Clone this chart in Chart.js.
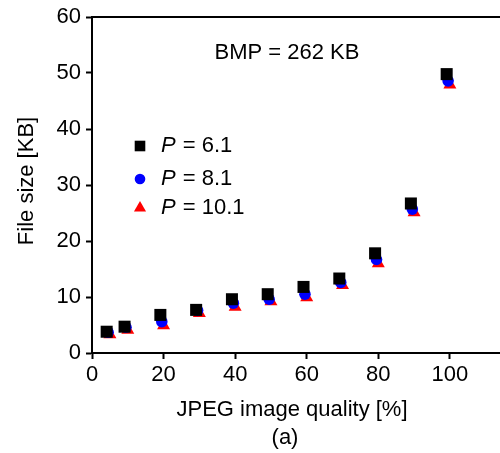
<!DOCTYPE html>
<html lang="en">
<head>
  <meta charset="UTF-8">
  <title>File size vs JPEG quality</title>
  <script src="https://cdn.jsdelivr.net/npm/chart.js"></script>
  <style>
    html, body { margin: 0; padding: 0; background: #fff; overflow: hidden; }
    canvas { display: block; }
  </style>
</head>
<body>
  <canvas id="sizeChart" width="500" height="453"></canvas>

  <script>
    // JPEG quality levels (each series is nudged a little on x, like the original)
    const quality = [5, 10, 20, 30, 40, 50, 60, 70, 80, 90, 100];
    const xShift = { p61: -0.9, p81: -0.5, p101: 0 };

    // File size [KB] per P value
    const sizeP61  = [3.8, 4.7, 6.8, 7.7, 9.6, 10.5, 11.8, 13.3, 17.8, 26.7, 49.8];
    const sizeP81  = [3.7, 4.6, 5.6, 7.6, 8.9, 9.6, 10.5, 12.6, 16.7, 25.7, 48.6];
    const sizeP101 = [3.3, 4.1, 4.9, 7.1, 8.2, 9.2, 9.9, 12.1, 16.0, 25.1, 47.9];

    const seriesNames = ['6.1', '8.1', '10.1'];
    const xTicks = [0, 20, 40, 60, 80, 100];
    const yTicks = [0, 10, 20, 30, 40, 50, 60];

    const FONT = '"Liberation Sans", Arial, Helvetica, sans-serif';

    function pts(ys, dx) {
      return quality.map((q, i) => ({ x: q + dx, y: ys[i] }));
    }

    // titles, note and legend drawn by hand (italic P in legend)
    const extras = {
      id: 'extras',
      afterDraw(chart) {
        const ctx = chart.ctx;
        const a = chart.chartArea;
        ctx.save();
        // top frame line
        ctx.strokeStyle = '#000';
        ctx.lineWidth = 2;
        ctx.beginPath();
        ctx.moveTo(a.left - 1, a.top);
        ctx.lineTo(a.right, a.top);
        ctx.stroke();

        ctx.fillStyle = '#000';
        ctx.textAlign = 'center';
        ctx.textBaseline = 'middle';
        ctx.font = '22px ' + FONT;
        ctx.fillText('BMP = 262 KB', 287, 53);
        ctx.fillText('JPEG image quality [%]', 292, 410);
        ctx.fillText('(a)', 285, 438);

        ctx.save();
        ctx.translate(27, 181);
        ctx.rotate(-Math.PI / 2);
        ctx.fillText('File size [KB]', 0, 0);
        ctx.restore();

        // legend
        const rows = [146, 179, 208];
        chart.data.datasets.forEach((ds, i) => {
          const y = rows[i];
          ctx.fillStyle = ds.backgroundColor;
          ctx.strokeStyle = ds.backgroundColor;
          Chart.helpers.drawPoint(ctx, {
            pointStyle: ds.pointStyle,
            radius: ds.legendRadius,
            borderWidth: 0
          }, 140, y);
          ctx.fillStyle = '#000';
          ctx.textAlign = 'left';
          ctx.font = 'italic 22px ' + FONT;
          ctx.fillText('P', 161, y);
          const w = ctx.measureText('P').width;
          ctx.font = '22px ' + FONT;
          ctx.fillText(' = ' + seriesNames[i], 161 + w + 1, y);
        });
        ctx.restore();
      }
    };

    new Chart(document.getElementById('sizeChart'), {
      type: 'scatter',
      data: {
        datasets: [
          {
            label: 'P = 6.1',
            data: pts(sizeP61, xShift.p61),
            pointStyle: 'rect',
            pointRadius: 8.5,
            legendRadius: 7.5,
            backgroundColor: '#000000',
            borderColor: '#000000',
            borderWidth: 0
          },
          {
            label: 'P = 8.1',
            data: pts(sizeP81, xShift.p81),
            pointStyle: 'circle',
            pointRadius: 5.8,
            legendRadius: 5.3,
            backgroundColor: '#0000ff',
            borderColor: '#0000ff',
            borderWidth: 0
          },
          {
            label: 'P = 10.1',
            data: pts(sizeP101, xShift.p101),
            pointStyle: 'triangle',
            pointRadius: 7.5,
            legendRadius: 7,
            backgroundColor: '#ff0000',
            borderColor: '#ff0000',
            borderWidth: 0
          }
        ]
      },
      options: {
        responsive: false,
        animation: false,
        layout: { autoPadding: false, padding: { top: 17, right: 0, left: 0, bottom: 0 } },
        plugins: {
          legend: { display: false },
          tooltip: { enabled: false }
        },
        scales: {
          x: {
            type: 'linear',
            min: 0,
            max: 114,
            afterBuildTicks: s => { s.ticks = xTicks.map(v => ({ value: v })); },
            afterFit: s => { s.height = 100; s.paddingLeft = 0; s.paddingRight = 0; },
            grid: { drawOnChartArea: false, drawTicks: true, tickLength: 6, tickColor: '#000', tickWidth: 2 },
            border: { color: '#000', width: 2 },
            ticks: { color: '#000', font: { family: FONT, size: 22 }, padding: 3, maxRotation: 0 }
          },
          y: {
            min: 0,
            max: 60,
            afterBuildTicks: s => { s.ticks = yTicks.map(v => ({ value: v })); },
            afterFit: s => { s.width = 92; s.paddingTop = 0; s.paddingBottom = 0; },
            grid: { drawOnChartArea: false, drawTicks: true, tickLength: 6, tickColor: '#000', tickWidth: 2 },
            border: { color: '#000', width: 2 },
            ticks: { color: '#000', font: { family: FONT, size: 22 }, padding: 5 }
          }
        }
      },
      plugins: [extras]
    });
  </script>
</body>
</html>
